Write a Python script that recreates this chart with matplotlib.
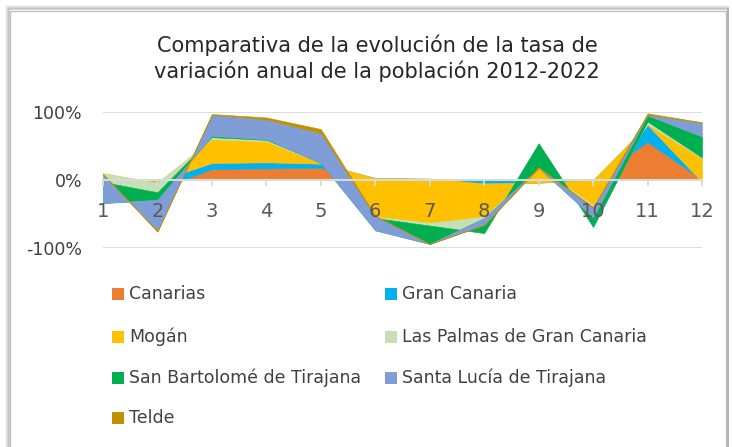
import matplotlib
matplotlib.use("Agg")
import matplotlib.pyplot as plt
from matplotlib.patches import Rectangle
import numpy as np

# categories (position in the 2012-2022 series)
periods = list(range(1, 13))

# annual variation rate (%), stacked in legend order
canarias = [0, -14, 16, 17, 18, 0, 0, 0, 0, 0, 56, 0]
gran_canaria = [1, 12, 9, 9, 6, 3, 2, -5, -4, 0, 25, -3]
mogan = [9, -2, 35, 31, 1, -57, -65, -49, 23, -37, 1, 35]
las_palmas = [-13, -14, 3, 2, 1, -2, -4, -24, 35, -32, 4, 1]
san_bartolome = [-31, -11, 2, 1, -1, -18, -27, 22, -36, 14, 9, 31]
santa_lucia = [42, -46, 31, 29, 44, 21, 0, -10, 0, 15, 1, 20]
telde = [1, -1, 1, 3, 6, 0, 0, 0, 1, -1, 2, 1]

names = ["Canarias", "Gran Canaria", "Mogán", "Las Palmas de Gran Canaria",
         "San Bartolomé de Tirajana", "Santa Lucía de Tirajana", "Telde"]
colors = ["#ED7D31", "#00B0F0", "#FFC000", "#C5E0B4", "#00B050", "#7F9ED8", "#BF9000"]
data = [canarias, gran_canaria, mogan, las_palmas, san_bartolome, santa_lucia, telde]

plt.rcParams["font.family"] = ["DejaVu Sans"]

W, H = 732, 447
fig = plt.figure(figsize=(W / 100, H / 100), dpi=100)

# chart frame with a soft shadow
for i, a in enumerate([0.08, 0.14, 0.22, 0.35]):
    fig.add_artist(Rectangle(((6 + i) / W, -0.01), (722 - i) / W, (H - 6 - i) / H + 0.01,
                             transform=fig.transFigure, fill=False,
                             edgecolor="#707070", lw=1.2, alpha=a, zorder=-3))
fig.add_artist(Rectangle((10 / W, -0.01), 716 / W, (H - 11) / H + 0.01,
                         transform=fig.transFigure, facecolor="white",
                         edgecolor="#BFBFBF", lw=1, zorder=-2))

ax = fig.add_axes([103 / W, 1 - 248 / H, (702 - 103) / W, (248 - 112) / H])
ax.set_facecolor("none")

base = np.zeros(len(periods))
for vals, col in zip(data, colors):
    top = base + np.array(vals) / 100.0
    ax.fill_between(periods, base, top, facecolor=col, edgecolor=col, lw=0.4, zorder=1)
    base = top

ax.set_xlim(1, 12)
ax.set_ylim(-1, 1)
ax.set_axisbelow(False)
ax.set_yticks([-1, 0, 1])
ax.set_yticklabels(["-100%", "0%", "100%"])
ax.grid(axis="y", color="#D9D9D9", lw=1.3)
for s in ["top", "right", "left"]:
    ax.spines[s].set_visible(False)
ax.spines["bottom"].set_position(("data", 0))
ax.spines["bottom"].set_color("#D9D9D9")
ax.spines["bottom"].set_linewidth(1.5)
ax.set_xticks(periods)
ax.set_xticklabels([str(p) for p in periods])
ax.tick_params(axis="x", length=4, width=1.3, color="#D9D9D9", pad=12,
               labelsize=14, labelcolor="#595959")
ax.tick_params(axis="y", length=0, pad=15, labelsize=12.5, labelcolor="#404040")

fig.text(377 / W, 1 - 58 / H, "Comparativa de la evolución de la tasa de\nvariación anual de la población 2012-2022",
         ha="center", va="center", fontsize=15, color="#262626", linespacing=1.25)

# legend, laid out like the original (row-major, two columns)
cols_x = [112, 385]
rows_y = [294, 337, 378, 418]
for i, (name, col) in enumerate(zip(names, colors)):
    x = cols_x[i % 2]
    y = rows_y[i // 2]
    fig.add_artist(Rectangle((x / W, 1 - (y + 6) / H), 12 / W, 12 / H,
                             transform=fig.transFigure, facecolor=col, edgecolor="none"))
    fig.text((x + 17) / W, 1 - y / H, name, ha="left", va="center",
             fontsize=12.5, color="#404040")

fig.savefig("out.png", dpi=100)
